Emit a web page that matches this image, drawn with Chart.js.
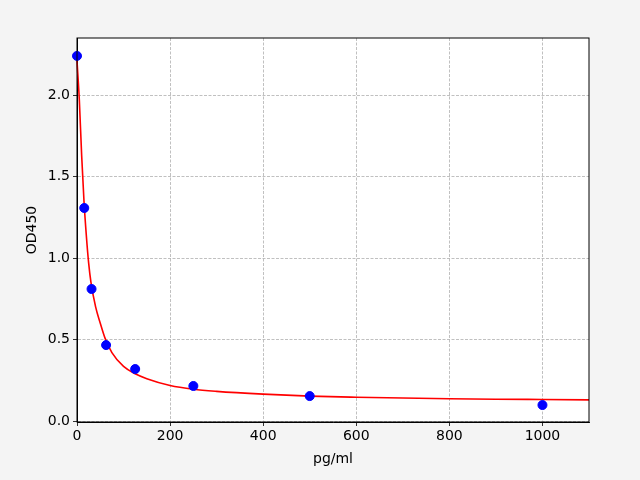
<!DOCTYPE html>
<html>
<head>
<meta charset="utf-8">
<script src="https://cdn.jsdelivr.net/npm/chart.js@4"></script>
<style>
  html, body { margin: 0; padding: 0; background: #f4f4f4; }
  #wrap { width: 640px; height: 480px; }
</style>
</head>
<body>
<div id="wrap"><canvas id="myChart" width="640" height="480"></canvas></div>
<script>
// standards (measured points)
const concs = [0, 15.6, 31.25, 62.5, 125, 250, 500, 1000];
const ods = [2.24, 1.307, 0.81, 0.466, 0.319, 0.215, 0.153, 0.098];

// fitted curve
const curveX = [0, 5, 10, 15, 20, 25, 30, 40, 50, 60, 75, 100, 125, 150, 200, 250, 300, 400, 500, 600, 700, 800, 900, 1000, 1100];
const curveY = [2.21, 1.97, 1.63, 1.35, 1.14, 0.97, 0.85, 0.70, 0.60, 0.51, 0.42, 0.335, 0.29, 0.26, 0.218, 0.195, 0.182, 0.165, 0.153, 0.146, 0.141, 0.137, 0.134, 0.132, 0.130];

const xTicks = [0, 200, 400, 600, 800, 1000];
const yTicks = [0.0, 0.5, 1.0, 1.5, 2.0];

const font = { family: 'DejaVu Sans', size: 14 };

// box round the plot area, like the spines
const frame = {
  id: 'frame',
  afterDatasetsDraw(chart) {
    const { ctx, chartArea: a } = chart;
    ctx.save();
    ctx.strokeStyle = '#000';
    ctx.lineWidth = 1;
    ctx.strokeRect(a.left, a.top, a.right - a.left, a.bottom - a.top);
    ctx.restore();
  }
};

const bg = {
  id: 'bg',
  beforeDraw(chart) {
    const { ctx, chartArea: a } = chart;
    ctx.save();
    ctx.fillStyle = '#f4f4f4';
    ctx.fillRect(0, 0, chart.width, chart.height);
    ctx.fillStyle = '#fff';
    ctx.fillRect(a.left, a.top, a.right - a.left, a.bottom - a.top);
    ctx.restore();
  }
};

new Chart(document.getElementById('myChart'), {
  type: 'scatter',
  data: {
    datasets: [
      {
        label: 'points',
        data: concs.map((c, i) => ({ x: c, y: ods[i] })),
        backgroundColor: '#0000ff',
        borderColor: '#0000ff',
        pointRadius: 4.5,
        order: 0
      },
      {
        label: 'fit',
        type: 'line',
        data: curveX.map((c, i) => ({ x: c, y: curveY[i] })),
        borderColor: '#ff0000',
        borderWidth: 1.6,
        pointRadius: 0,
        fill: false,
        cubicInterpolationMode: 'monotone',
        order: 1
      }
    ]
  },
  options: {
    responsive: false,
    animation: false,
    clip: false,
    layout: { padding: { top: 38, right: 51, left: 0, bottom: 0 } },
    plugins: { legend: { display: false }, tooltip: { enabled: false } },
    scales: {
      x: {
        type: 'linear',
        min: 0,
        max: 1100,
        afterBuildTicks: (s) => { s.ticks = xTicks.map(v => ({ value: v })); },
        afterFit: (s) => { s.height = 58; },
        ticks: { color: '#000', font, padding: 2, maxRotation: 0, callback: (v) => String(v) },
        grid: { color: '#b0b0b0', lineWidth: 0.8, tickColor: '#000', tickLength: 4, tickBorderDash: [] },
        border: { display: true, color: '#000', dash: [3, 1.5] },
        title: { display: true, text: 'pg/ml', color: '#000', font, padding: { top: 2, bottom: 12 } }
      },
      y: {
        type: 'linear',
        min: -0.006,
        max: 2.35,
        afterBuildTicks: (s) => { s.ticks = yTicks.map(v => ({ value: v })); },
        afterFit: (s) => { s.width = 77; },
        ticks: { color: '#000', font, padding: 3, callback: (v) => v.toFixed(1) },
        grid: { color: '#b0b0b0', lineWidth: 0.8, tickColor: '#000', tickLength: 4, tickBorderDash: [] },
        border: { display: true, color: '#000', dash: [3, 1.5] },
        title: { display: true, text: 'OD450', color: '#000', font, padding: { top: 24, bottom: 4 } }
      }
    }
  },
  plugins: [bg, frame]
});
</script>
</body>
</html>
